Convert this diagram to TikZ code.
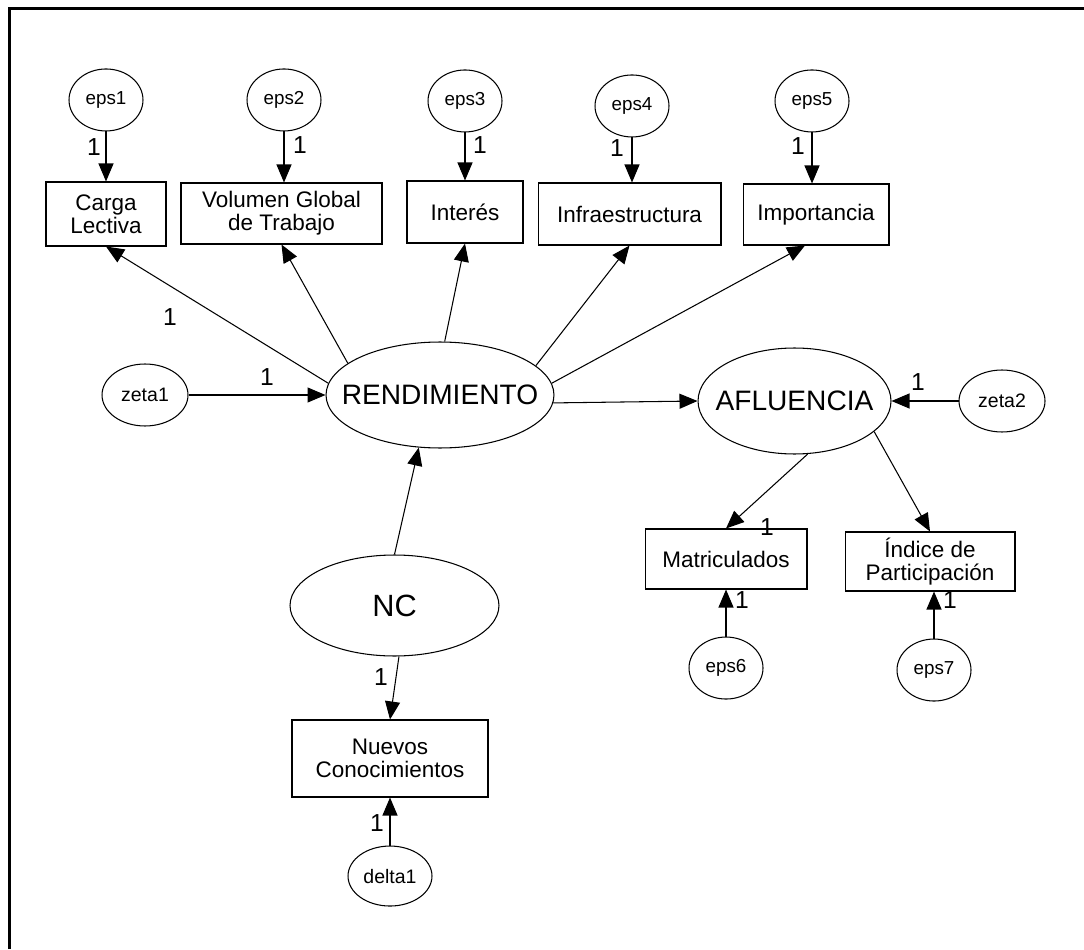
\documentclass[tikz,border=0pt]{standalone}
\usepackage{fontspec}
\setmainfont{Liberation Sans}
\usetikzlibrary{shapes.geometric,arrows.meta,positioning}

\tikzset{
  obs/.style={draw, line width=0.6pt, rectangle, align=center, inner sep=0pt,
    font=\fontsize{12.8}{13}\selectfont},
  err/.style={draw, line width=0.6pt, ellipse, inner sep=0pt,
    minimum width=1.48cm, minimum height=1.24cm, font=\fontsize{10.7}{12}\selectfont},
  dist/.style={err, minimum width=1.72cm, font=\fontsize{11.1}{12}\selectfont},
  lat/.style={draw, line width=0.6pt, ellipse, inner sep=0pt,
    font=\fontsize{16}{18}\selectfont},
  one/.style={font=\fontsize{14}{14}\selectfont, inner sep=0pt},
  link/.style={->, line width=0.6pt}
}

\begin{document}
\begin{tikzpicture}[x=0.02cm, y=-0.02cm, >={Triangle[length=0.36cm, width=0.3cm]}]
  \useasboundingbox (0,0) rectangle (1084,949);

  %--- Frame
  \draw[line width=1.4pt, line join=miter] (9.5,949) -- (9.5,8.7) -- (1084,8.7);

  %--- Latent variables
  \node[lat, minimum width=4.56cm, minimum height=2.12cm] (rend) at (440,395) {\makebox[0pt]{RENDIMIENTO}};
  \node[lat, minimum width=3.86cm, minimum height=2.12cm] (afl) at (794.5,401) {\makebox[0pt]{AFLUENCIA}};
  \node[lat, minimum width=4.18cm, minimum height=2.02cm,
        font=\fontsize{17.5}{18}\selectfont] (nc) at (394.5,605.5) {\makebox[0pt]{NC}};

  %--- Observed indicators
  \node[obs, minimum width=2.4cm, minimum height=1.28cm] (carga) at (106,214) {Carga\\Lectiva};
  \node[obs, minimum width=4.02cm, minimum height=1.22cm] (vol) at (281.5,213.5) {Volumen Global\\de Trabajo};
  \node[obs, minimum width=2.32cm, minimum height=1.24cm] (int) at (465,212) {Interés};
  \node[obs, minimum width=3.66cm, minimum height=1.24cm] (infra) at (629.5,214) {Infraestructura};
  \node[obs, minimum width=2.92cm, minimum height=1.22cm] (imp) at (816,214.5) {Importancia};
  \node[obs, minimum width=3.24cm, minimum height=1.2cm] (matr) at (726,559) {Matriculados};
  \node[obs, minimum width=3.4cm, minimum height=1.18cm] (ind) at (930,561.5) {Índice de\\Participación};
  \node[obs, minimum width=3.92cm, minimum height=1.54cm] (nuevos) at (390,758.5) {Nuevos\\Conocimientos};

  %--- Error terms
  \node[err, above=1.0cm of carga] (e1) {eps1};
  \node[err, above=1.02cm of vol, xshift=0.05cm] (e2) {eps2};
  \node[err, above=0.96cm of int] (e3) {eps3};
  \node[err, above=0.9cm of infra, xshift=0.05cm] (e4) {eps4};
  \node[err, above=1.02cm of imp, xshift=-0.08cm] (e5) {eps5};
  \node[err, below=0.94cm of matr] (e6) {eps6};
  \node[err, below=0.94cm of ind, xshift=0.08cm] (e7) {eps7};
  \node[dist, left=2.74cm of rend] (z1) {zeta1};
  \node[dist, right=1.34cm of afl] (z2) {zeta2};
  \node[dist, minimum width=1.68cm, minimum height=1.2cm, below=0.96cm of nuevos] (d1) {delta1};

  %--- Measurement errors
  \foreach \e/\o in {e1/carga, e2/vol, e3/int, e4/infra, e5/imp}
    \draw[link] (\e) -- (\e |- \o.north);
  \draw[link] (e6) -- (e6 |- matr.south);
  \draw[link] (e7) -- (e7 |- ind.south);
  \draw[link] (d1) -- (d1 |- nuevos.south);

  %--- Loadings and paths
  \draw[link] (rend.174) -- (carga.south);
  \draw[link] (rend.161) -- (vol.south);
  \draw[link] (rend.85) -- (int.south);
  \draw[link] (rend.17) -- (infra.south);
  \draw[link] (rend.6) -- ([xshift=-0.22cm]imp.south);
  \draw[link] (z1) -- (rend);
  \draw[link] (rend.-4) -- (afl.west);
  \draw[link] (z2) -- (afl);
  \draw[link] (afl.-76) -- (matr.north);
  \draw[link] (afl.-21) -- (ind.north);
  \draw[link] (nc.north) -- (rend.-112);
  \draw[link] (nc.-85) -- (nuevos.north);

  %--- Fixed coefficients
  \node[one] (w1) at (94,147) {1};
  \node[one] (w2) at (300,145) {1};
  \node[one] (w3) at (480,145) {1};
  \node[one] (w4) at (617,148) {1};
  \node[one] (w5) at (798,146) {1};
  \node[one] (w6) at (170,317) {1};
  \node[one] (w7) at (267,377) {1};
  \node[one] (w8) at (918,382) {1};
  \node[one] (w9) at (767,527) {1};
  \node[one] (w10) at (742,600) {1};
  \node[one] (w11) at (950,600) {1};
  \node[one] (w12) at (381,677) {1};
  \node[one] (w13) at (377,823) {1};
\end{tikzpicture}
\end{document}
